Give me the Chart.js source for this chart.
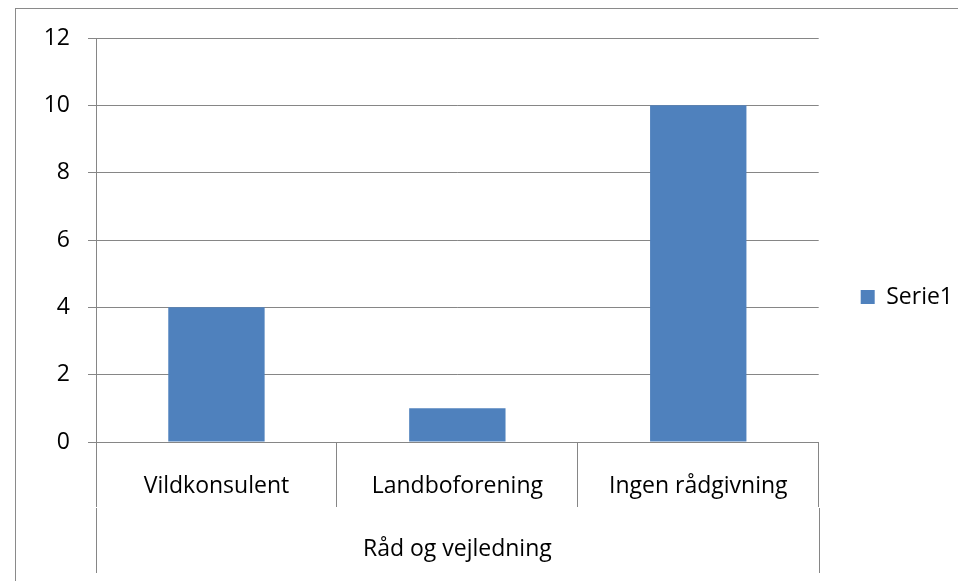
<!DOCTYPE html>
<html>
<head>
<meta charset="utf-8">
<script src="https://cdn.jsdelivr.net/npm/chart.js@4/dist/chart.umd.min.js"></script>
<style>
  html, body { margin: 0; padding: 0; background: #fff; }
  #wrap { width: 958px; height: 581px; }
</style>
</head>
<body>
<div id="wrap"><canvas id="barChart"></canvas></div>
<script>
const categories = ['Vildkonsulent', 'Landboforening', 'Ingen rådgivning'];
const groupLabel = 'Råd og vejledning';
const serieValues = [4, 1, 10];
const serieName = 'Serie1';
const yMin = 0, yMax = 12, yStep = 2;

const gridGrey = '#868686';
const catTick = 65;

// chart border (frame runs off the right and bottom of the picture)
const frame = {
    id: 'frame',
    beforeDraw(chart) {
        const c = chart.ctx;
        c.save();
        c.strokeStyle = '#8a8a8a';
        c.lineWidth = 1;
        c.strokeRect(15.5, 8.5, chart.width + 50, chart.height + 50);
        c.restore();
    }
};

// outer lines of the grouped category axis, continuing below the category ticks
const groupLines = {
    id: 'groupLines',
    afterDraw(chart) {
        const x = chart.scales.x;
        const c = chart.ctx;
        c.save();
        c.strokeStyle = gridGrey;
        c.lineWidth = 1;
        [x.left, x.right].forEach(px => {
            c.beginPath();
            c.moveTo(Math.round(px) + 0.5, x.top + catTick + 1);
            c.lineTo(Math.round(px) + 0.5, x.bottom);
            c.stroke();
        });
        c.restore();
    }
};

Chart.defaults.font.family = "'Open Sans', sans-serif";
Chart.defaults.font.size = 23;
Chart.defaults.color = '#000';

var ctx = document.getElementById('barChart');

new Chart(ctx, {
    type: 'bar',
    data: {
        labels: categories,
        datasets: [{
            label: serieName,
            data: serieValues,
            backgroundColor: '#4F81BD',
            borderWidth: 0,
            barPercentage: 0.4,
            categoryPercentage: 1
        }]
    },
    options: {
        responsive: true,
        maintainAspectRatio: false,
        animation: false,
        layout: {
            padding: { top: 21, left: 30, right: -5, bottom: 8 }
        },
        plugins: {
            tooltip: { enabled: false },
            title: {
                display: true,
                text: '',
                fullSize: false,
                padding: 0,
                font: { size: 17, lineHeight: 1 }
            },
            legend: {
                position: 'right',
                align: 'center',
                labels: {
                    boxWidth: 14,
                    boxHeight: 14,
                    padding: 42
                }
            }
        },
        scales: {
            x: {
                grid: {
                    offset: true,
                    drawOnChartArea: false,
                    color: gridGrey,
                    tickLength: catTick
                },
                border: { color: gridGrey },
                ticks: {
                    padding: -34,
                    maxRotation: 0
                },
                title: {
                    display: true,
                    text: groupLabel,
                    padding: { top: 0, bottom: 10 }
                },
                afterFit: s => { s.height = 131; }
            },
            y: {
                min: yMin,
                max: yMax,
                grid: {
                    color: gridGrey,
                    tickLength: 8
                },
                border: { color: gridGrey },
                ticks: {
                    stepSize: yStep,
                    padding: 18
                },
                afterFit: s => { s.width = 66; }
            }
        }
    },
    plugins: [frame, groupLines]
});
</script>
</body>
</html>
